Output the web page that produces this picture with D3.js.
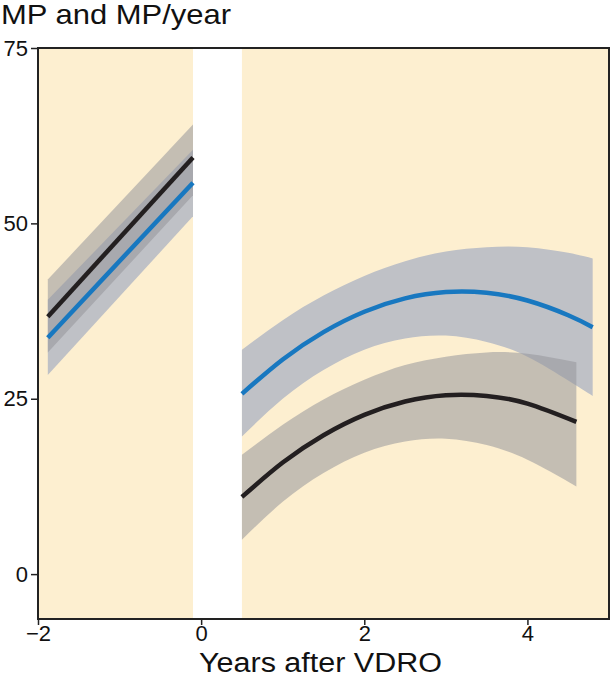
<!DOCTYPE html>
<html>
<head>
<meta charset="utf-8">
<script src="https://cdn.jsdelivr.net/npm/d3@7"></script>
<style>
  body { margin: 0; background: #fff; }
  text { font-family: "Liberation Sans", Arial, Helvetica, sans-serif; fill: #111; }
</style>
</head>
<body>
<div id="chart"></div>
<script>
// chart set up
const svgWidth = 611;
const svgHeight = 677;
const margin = { top: 48, right: 2, bottom: 58, left: 38 };
const width = svgWidth - margin.left - margin.right;
const height = svgHeight - margin.top - margin.bottom;

// data
const xTicks = [-2, 0, 2, 4];
const yTicks = [0, 25, 50, 75];
const gapBand = [-0.1, 0.5];

// before VDRO (linear fits)
const leftX = [-1.88, -0.1];
const leftBlack = [36.7, 59.4];
const leftBlackLo = [31.6, 54.0];
const leftBlackHi = [42.0, 64.1];
const leftBlue = [33.7, 55.8];
const leftBlueLo = [28.4, 51.0];
const leftBlueHi = [39.1, 60.5];

// after VDRO
const blueX = [0.5, 1, 1.5, 2, 2.5, 3, 3.5, 4, 4.5, 4.8];
const blueMid = [25.7, 30.6, 34.5, 37.4, 39.3, 40.2, 40.1, 39.0, 36.9, 35.2];
const blueLo = [19.6, 25.0, 29.1, 32.0, 33.6, 34.0, 33.1, 31.0, 27.6, 25.4];
const blueHi = [32.0, 36.2, 39.7, 42.5, 44.6, 46.0, 46.6, 46.6, 45.8, 45.0];

const blackX = [0.5, 1, 1.5, 2, 2.5, 3, 3.5, 4, 4.6];
const blackMid = [11.0, 15.9, 19.8, 22.7, 24.6, 25.5, 25.4, 24.3, 21.7];
const blackLo = [4.9, 10.3, 14.4, 17.3, 18.9, 19.3, 18.4, 16.3, 12.5];
const blackHi = [17.0, 21.3, 24.9, 27.7, 29.8, 31.0, 31.6, 31.4, 30.2];

const cream = "#fdefd0";
const blueBandCol = "#bfc1c6";
const blackBandCol = "rgba(150,150,155,0.55)";
const blueCol = "#1878c0";
const blackCol = "#231f20";

const svg = d3.select("#chart").append("svg")
  .attr("width", svgWidth)
  .attr("height", svgHeight);

const chartGroup = svg.append("g")
  .attr("transform", `translate(${margin.left}, ${margin.top})`);

const x = d3.scaleLinear().domain([-2, 5]).range([0, width]);
const y = d3.scaleLinear().domain([-6.4, 75]).range([height, 0]);

// background
chartGroup.append("rect")
  .attr("width", width).attr("height", height)
  .attr("fill", cream);

chartGroup.append("rect")
  .attr("x", x(gapBand[0]))
  .attr("width", x(gapBand[1]) - x(gapBand[0]))
  .attr("height", height)
  .attr("fill", "#fff");

function pts(xs, ys) { return xs.map((v, i) => [v, ys[i]]); }
function bandPts(xs, lo, hi) { return xs.map((v, i) => [v, lo[i], hi[i]]); }

const area = d3.area()
  .x(d => x(d[0])).y0(d => y(d[1])).y1(d => y(d[2]))
  .curve(d3.curveNatural);
const line = d3.line()
  .x(d => x(d[0])).y(d => y(d[1]))
  .curve(d3.curveNatural);

// bands: blue first, black on top (translucent)
[bandPts(leftX, leftBlueLo, leftBlueHi), bandPts(blueX, blueLo, blueHi)].forEach(b => {
  chartGroup.append("path").attr("d", area(b)).attr("fill", blueBandCol);
});
[bandPts(leftX, leftBlackLo, leftBlackHi), bandPts(blackX, blackLo, blackHi)].forEach(b => {
  chartGroup.append("path").attr("d", area(b)).attr("fill", blackBandCol);
});

// fitted lines
[[pts(leftX, leftBlue), blueCol], [pts(blueX, blueMid), blueCol],
 [pts(leftX, leftBlack), blackCol], [pts(blackX, blackMid), blackCol]].forEach(([p, c]) => {
  chartGroup.append("path").attr("d", line(p))
    .attr("fill", "none").attr("stroke", c).attr("stroke-width", 4.5);
});

// frame
chartGroup.append("rect")
  .attr("width", width).attr("height", height)
  .attr("fill", "none").attr("stroke", "#222").attr("stroke-width", 2);

// axes
const xAxis = chartGroup.append("g")
  .attr("transform", `translate(0, ${height})`)
  .call(d3.axisBottom(x).tickValues(xTicks).tickSize(6).tickSizeOuter(0)
    .tickFormat(d => d < 0 ? "\u2212" + Math.abs(d) : d));
const yAxis = chartGroup.append("g")
  .call(d3.axisLeft(y).tickValues(yTicks).tickSize(7).tickSizeOuter(0));

[xAxis, yAxis].forEach(a => {
  a.select(".domain").remove();
  a.selectAll("line").attr("stroke", "#222").attr("stroke-width", 1.5);
  a.selectAll("text").style("font-size", "22px").attr("fill", "#111");
});
xAxis.selectAll("text").attr("y", 6);
yAxis.selectAll("text").attr("x", -10);

// titles
svg.append("text")
  .attr("x", 1).attr("y", 24)
  .attr("textLength", 230).attr("lengthAdjust", "spacingAndGlyphs")
  .style("font-size", "28px")
  .text("MP and MP/year");

svg.append("text")
  .attr("x", 199).attr("y", 672)
  .attr("textLength", 243).attr("lengthAdjust", "spacingAndGlyphs")
  .style("font-size", "27px")
  .text("Years after VDRO");
</script>
</body>
</html>
